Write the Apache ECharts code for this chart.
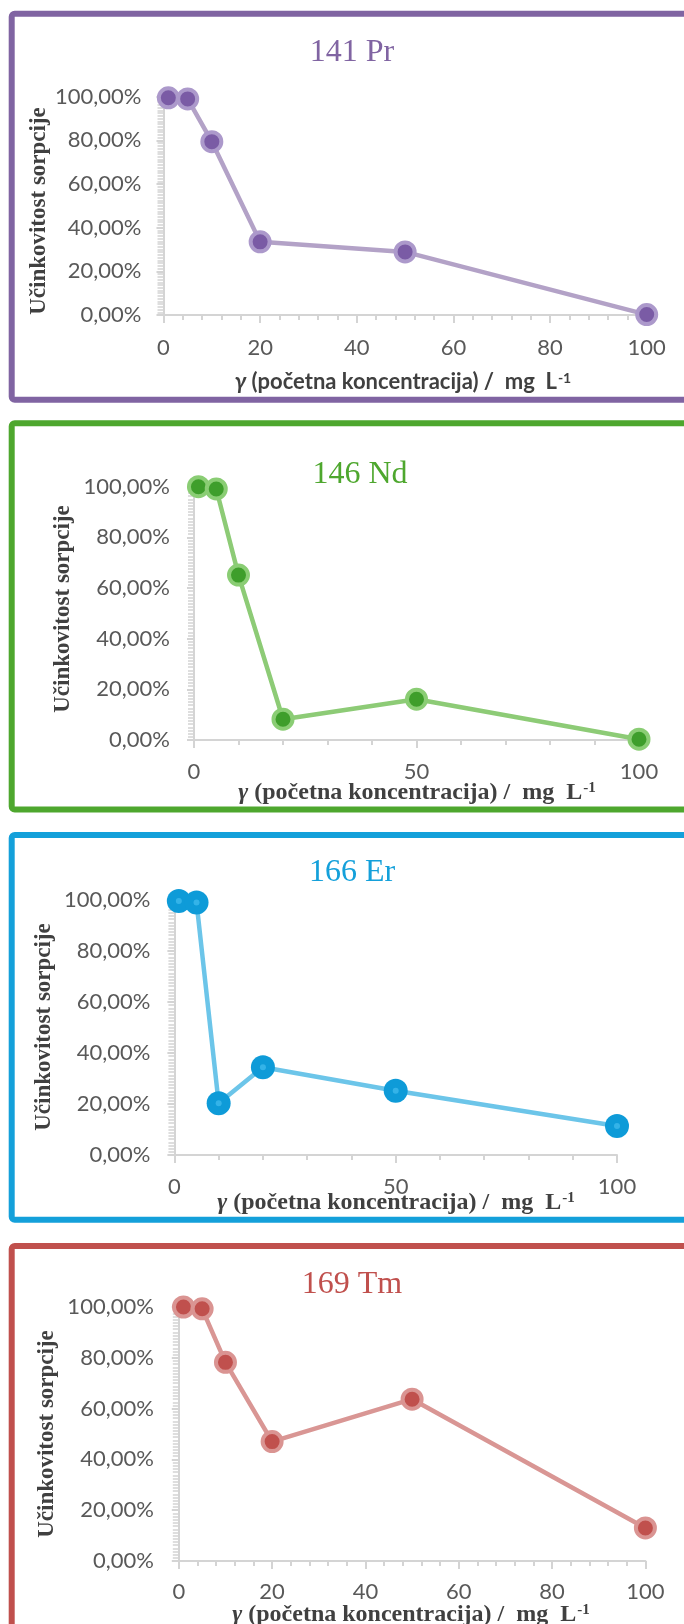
<!DOCTYPE html>
<html>
<head>
<meta charset="utf-8">
<script src="https://cdn.jsdelivr.net/npm/echarts@6/dist/echarts.min.js"></script>
<style>
html,body{margin:0;padding:0;background:#fff;}
#c{width:684px;height:1624px;}
</style>
</head>
<body>
<div id="c"></div>
<script>
// ---- data ----
const xValues = [1, 5, 10, 20, 50, 100];
const prValues = [0.995, 0.990, 0.794, 0.335, 0.289, 0.002];
const ndValues = [1.000, 0.991, 0.651, 0.082, 0.161, 0.003];
const erValues = [0.996, 0.990, 0.203, 0.344, 0.252, 0.114];
const tmValues = [1.000, 0.993, 0.782, 0.470, 0.637, 0.130];
const panelTitles = ['141 Pr', '146 Nd', '166 Er', '169 Tm'];
const yTickLabels = ['0,00%', '20,00%', '40,00%', '60,00%', '80,00%', '100,00%'];
const xTicksPr = [0, 20, 40, 60, 80, 100];
const xTicksNd = [0, 50, 100];
const xTicksEr = [0, 50, 100];
const xTicksTm = [0, 20, 40, 60, 80, 100];
const yTitle = 'Učinkovitost sorpcije';
const xTitleText = ' (početna koncentracija) /  mg  L';

const seriesValues = [prValues, ndValues, erValues, tmValues];
const xTickSets = [xTicksPr, xTicksNd, xTicksEr, xTicksTm];

// ---- layout / style ----
const panels = [
  {frame:[11.7,13.7,386], frameColor:'#8064A2', grid:{left:163.5, top:96.7, width:483.2, height:218.3},
   xMinor:4, title:[352,53], yT:[39,211], xT:[403,382], xSerif:false, yMargin:22, xMargin:22,
   line:'#B3A2C7', fill:'#7A5BA5', ring:'#AC99CB', size:19, bw:4},
  {frame:[11.7,423.3,386.2], frameColor:'#4EA72E', grid:{left:194, top:486.7, width:445, height:253.3},
   xMinor:10, title:[360,475], yT:[63,609], xT:[417,793], xSerif:true, yMargin:24, xMargin:21,
   line:'#8DCB76', fill:'#3E9E2B', ring:'#8ACD74', size:19, bw:4},
  {frame:[11.7,835,384.7], frameColor:'#14A0DA', grid:{left:174.4, top:900, width:442.6, height:255},
   xMinor:10, title:[352,873], yT:[44,1027], xT:[396,1203], xSerif:true, yMargin:24, xMargin:21,
   line:'#6CC5E9', fill:'#0E9BD8', ring:'#0E9BD8', size:24, bw:0},
  {frame:[11.7,1246,500], frameColor:'#C0504D', grid:{left:178.8, top:1307, width:466.6, height:254},
   xMinor:4, title:[352,1285], yT:[47,1434], xT:[411,1615], xSerif:true, yMargin:25, xMargin:20,
   line:'#D99694', fill:'#C0504D', ring:'#DA9492', size:19, bw:4}
];

const axisGray = '#D4D4D4';
const labelFont = 'Lato, "Liberation Sans", sans-serif';
const serif = '"Liberation Serif", "Times New Roman", serif';

const grids = [], xAxes = [], yAxes = [], series = [], graphics = [];

panels.forEach((p, i) => {
  grids.push(Object.assign({outerBoundsMode:'none', containLabel:false}, p.grid));
  const ticks = xTickSets[i];
  const xMajor = ticks[1] - ticks[0];
  // main x axis
  xAxes.push({
    gridIndex:i, type:'value', min:ticks[0], max:ticks[ticks.length-1], interval:xMajor,
    axisLine:{show:true, onZero:false, lineStyle:{color:axisGray, width:2}},
    axisTick:{show:true, inside:false, length:8, lineStyle:{color:axisGray, width:2}},
    axisLabel:{margin:p.xMargin, fontSize:22, color:'#595959', fontFamily:labelFont,
      formatter: v => ticks.indexOf(v) >= 0 ? String(v) : ''},
    splitLine:{show:false}
  });
  // minor x ticks (inside)
  xAxes.push({
    gridIndex:i, type:'value', min:ticks[0], max:ticks[ticks.length-1], interval:p.xMinor,
    axisLine:{show:false}, axisLabel:{show:false}, splitLine:{show:false},
    axisTick:{show:true, inside:true, length:5, lineStyle:{color:axisGray, width:2}}
  });
  // main y axis
  yAxes.push({
    gridIndex:i, type:'value', min:0, max:1, interval:0.2,
    axisLine:{show:true, onZero:false, lineStyle:{color:axisGray, width:2}},
    axisTick:{show:true, inside:false, length:7, lineStyle:{color:axisGray, width:2}},
    axisLabel:{margin:p.yMargin, fontSize:22, color:'#595959', fontFamily:labelFont,
      formatter: v => yTickLabels[Math.round(v*5)]},
    splitLine:{show:false}
  });
  // minor y ticks (inside)
  yAxes.push({
    gridIndex:i, type:'value', min:0, max:1, interval:0.0125,
    axisLine:{show:false}, axisLabel:{show:false}, splitLine:{show:false},
    axisTick:{show:true, inside:true, length:6, lineStyle:{color:axisGray, width:1.5}}
  });

  const data = xValues.map((x, k) => [x, seriesValues[i][k]]);
  series.push({
    type:'line', xAxisIndex:2*i, yAxisIndex:2*i, data:data,
    symbol:'circle', symbolSize:p.size, showAllSymbol:true,
    lineStyle:{color:p.line, width:4.5},
    itemStyle:{color:p.fill, borderColor:p.ring, borderWidth:p.bw},
    z:3
  });
  if (i === 2) {
    series.push({
      type:'scatter', xAxisIndex:2*i, yAxisIndex:2*i, data:data,
      symbol:'circle', symbolSize:6, itemStyle:{color:'#3FB9EC'}, z:4, silent:true
    });
  }

  // frame
  graphics.push({type:'rect', shape:{x:p.frame[0], y:p.frame[1], width:720, height:p.frame[2], r:3},
    style:{fill:'none', stroke:p.frameColor, lineWidth:6}, z:1});
  // panel title
  graphics.push({type:'text', x:p.title[0], y:p.title[1],
    style:{text:panelTitles[i], fill:p.frameColor, font:'32px ' + serif, align:'center', verticalAlign:'middle'}, z:5});
  // y title
  graphics.push({type:'text', x:p.yT[0], y:p.yT[1], rotation:Math.PI/2,
    style:{text:yTitle, fill:'#404040', font:'bold 23px ' + serif, align:'center', verticalAlign:'middle'}, z:5});
  // x title
  const xf = p.xSerif ? serif : labelFont;
  const xs = p.xSerif ? 24 : 22;
  graphics.push({type:'text', x:p.xT[0], y:p.xT[1],
    style:{text:'{g|γ}{t|' + xTitleText + '}{s|-1}', align:'center', verticalAlign:'middle',
      rich:{
        g:{fontFamily:xf, fontSize:xs, fontWeight:'bold', fontStyle:'italic', fill:'#404040', color:'#404040'},
        t:{fontFamily:xf, fontSize:xs, fontWeight:'bold', fill:'#404040', color:'#404040'},
        s:{fontFamily:xf, fontSize:Math.round(xs*0.62), fontWeight:'bold', fill:'#404040', color:'#404040', verticalAlign:'top', padding:[0,0,0,1]}
      }}, z:5});
});

const chart = echarts.init(document.getElementById('c'), null, {renderer:'canvas'});
chart.setOption({
  animation:false,
  backgroundColor:'#ffffff',
  grid:grids, xAxis:xAxes, yAxis:yAxes, series:series,
  graphic:graphics
});
</script>
</body>
</html>
